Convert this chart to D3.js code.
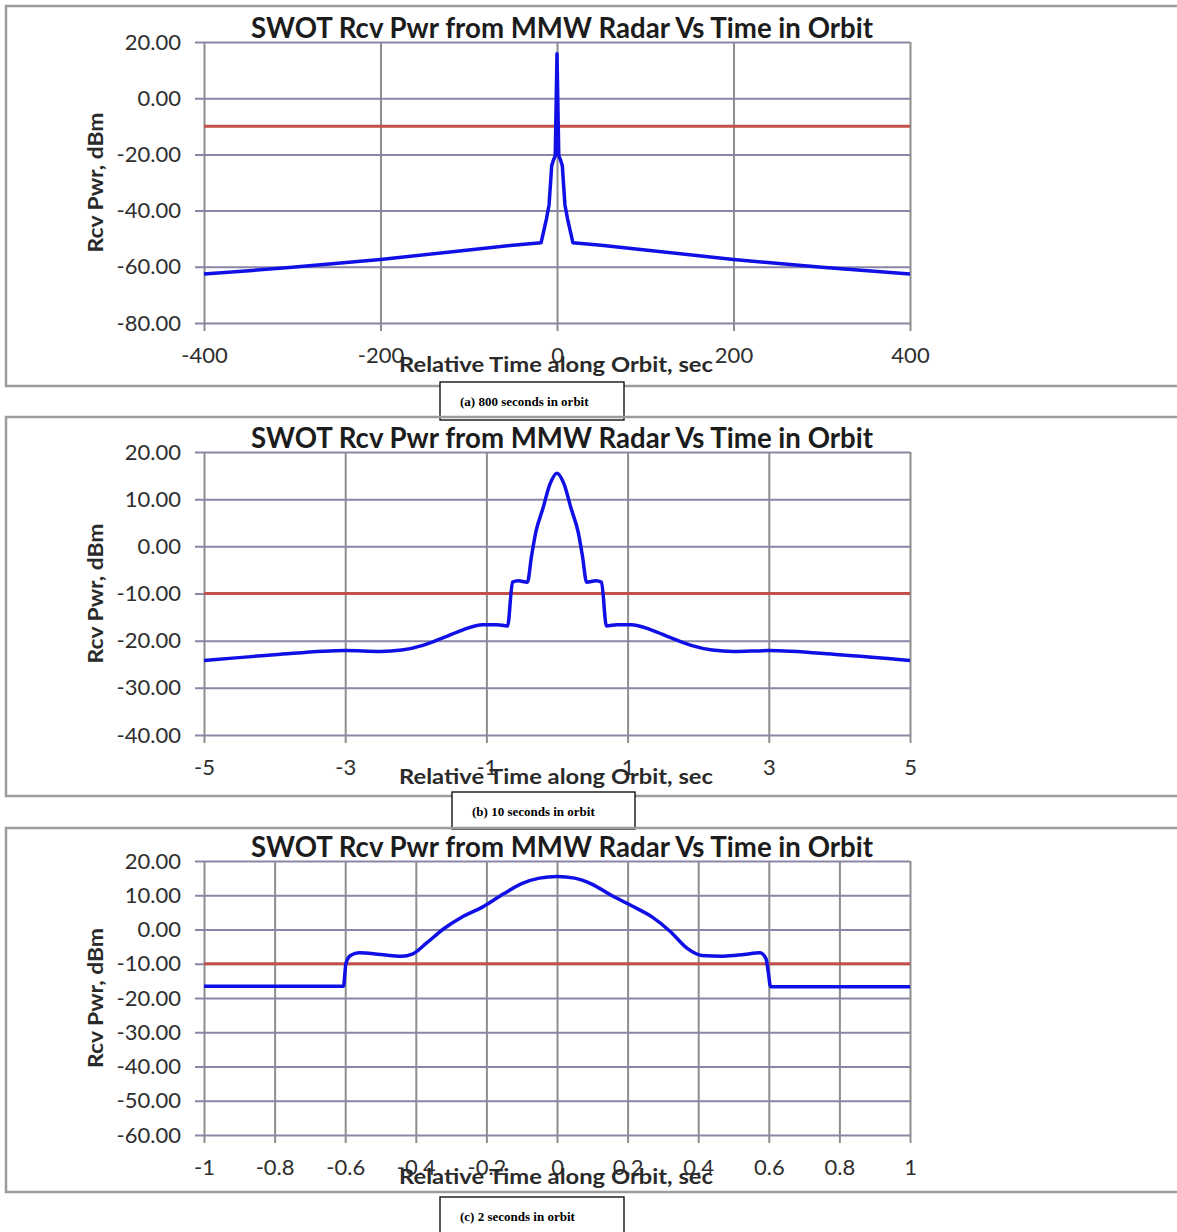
<!DOCTYPE html>
<html>
<head>
<meta charset="utf-8">
<script src="https://cdn.jsdelivr.net/npm/d3@7"></script>
<style>
  body { margin: 0; background: #fff; }
  .tick text { fill: #2e2e2e; font-family: Lato, sans-serif; font-size: 22px; }
</style>
</head>
<body>
<div id="chart-area"></div>
<script>
// texts
const chartTitle = 'SWOT Rcv Pwr from MMW Radar Vs Time in Orbit';
const xTitle = 'Relative Time along Orbit, sec';
const yTitle = 'Rcv Pwr, dBm';
const captions = ['(a) 800 seconds in orbit', '(b) 10 seconds in orbit', '(c) 2 seconds in orbit'];
const threshold = -10; // red reference line, dBm

// (a) 800 s window
const xTicks800 = [-400, -200, 0, 200, 400];
const yTicks800 = [20, 0, -20, -40, -60, -80];
const time800 = [-400, -300, -200, -100, -50, -18, -12, -9, -6, -4, -2, 0, 2, 4, 6, 9, 12, 18, 50, 100, 200, 300, 400];
const pwr800 = [-62.6, -60.2, -57.4, -54.0, -52.3, -51.4, -43.0, -38.0, -24.0, -22.0, -20.5, 15.8, -20.5, -22.0, -24.0, -38.0, -43.0, -51.4, -52.3, -54.0, -57.4, -60.2, -62.6];

// (b) 10 s window
const xTicks10 = [-5, -3, -1, 1, 3, 5];
const yTicks10 = [20, 10, 0, -10, -20, -30, -40];
const time10 = [-5, -4, -3, -2.5, -2.2, -1.9, -1.6, -1.35, -1.05, -0.85, -0.7, -0.63, -0.55, -0.42, -0.36, -0.3, -0.2, -0.1, 0,
  0.1, 0.2, 0.3, 0.36, 0.42, 0.55, 0.63, 0.7, 0.85, 1.05, 1.35, 1.6, 1.9, 2.2, 2.5, 3, 4, 5];
const pwr10 = [-24.2, -23.0, -22.1, -22.3, -22.0, -21.0, -19.3, -17.8, -16.6, -16.6, -16.9, -7.6, -7.3, -7.6, -2.0, 3.0, 8.0, 13.2, 15.5,
  13.2, 8.0, 3.0, -2.0, -7.6, -7.3, -7.6, -16.9, -16.6, -16.6, -17.8, -19.3, -21.0, -22.0, -22.3, -22.1, -23.0, -24.2];

// (c) 2 s window
const xTicks2 = [-1, -0.8, -0.6, -0.4, -0.2, 0, 0.2, 0.4, 0.6, 0.8, 1];
const yTicks2 = [20, 10, 0, -10, -20, -30, -40, -50, -60];
const time2 = [-1, -0.8, -0.605, -0.598, -0.585, -0.56, -0.5, -0.44, -0.41, -0.37, -0.32, -0.27, -0.21, -0.15, -0.1, -0.05, 0,
  0.05, 0.1, 0.15, 0.21, 0.27, 0.32, 0.37, 0.41, 0.47, 0.53, 0.575, 0.592, 0.598, 0.605, 0.8, 1];
const pwr2 = [-16.6, -16.6, -16.6, -10.0, -7.6, -6.8, -7.3, -7.8, -7.2, -4.0, 0.3, 3.6, 6.6, 10.5, 13.4, 15.0, 15.5,
  15.0, 13.2, 10.2, 7.0, 3.6, -0.5, -5.6, -7.6, -7.8, -7.3, -6.8, -8.5, -12.0, -16.7, -16.7, -16.7];

const svg = d3.select('#chart-area')
  .append('svg')
  .attr('width', 1177)
  .attr('height', 1232);

const plotLeft = 204;
const plotRight = 910;

const panels = [
  { time: time800, pwr: pwr800, xTicks: xTicks800, yTicks: yTicks800, caption: captions[0],
    top: 42, bottom: 323, frame: [6, 386], box: [440, 382, 184, 38], curve: d3.curveLinear },
  { time: time10, pwr: pwr10, xTicks: xTicks10, yTicks: yTicks10, caption: captions[1],
    top: 452, bottom: 735, frame: [417, 796], box: [452, 792, 183, 37], curve: d3.curveMonotoneX },
  { time: time2, pwr: pwr2, xTicks: xTicks2, yTicks: yTicks2, caption: captions[2],
    top: 861, bottom: 1135, frame: [828, 1192], box: [440, 1197, 184, 50], curve: d3.curveMonotoneX }
];

const drawPanel = p => {
  const g = svg.append('g');
  const width = plotRight - plotLeft;
  const height = p.bottom - p.top;

  // outer chart frame (runs off the right edge)
  g.append('rect')
    .attr('x', 6)
    .attr('y', p.frame[0])
    .attr('width', 1240)
    .attr('height', p.frame[1] - p.frame[0])
    .attr('fill', 'none')
    .attr('stroke', '#9c9c9c')
    .attr('stroke-width', 2.5);

  const x = d3.scaleLinear().domain(d3.extent(p.xTicks)).range([plotLeft, plotRight]);
  const y = d3.scaleLinear().domain(d3.extent(p.yTicks)).range([p.bottom, p.top]);

  // vertical grid with tick marks below the plot
  const xAxis = g.append('g')
    .attr('transform', `translate(0, ${p.top})`)
    .call(d3.axisBottom(x)
      .tickValues(p.xTicks)
      .tickSize(height + 8)
      .tickPadding(16)
      .tickFormat(d => String(d)));
  xAxis.select('.domain').remove();
  xAxis.selectAll('line').attr('stroke', '#8e8e8e').attr('stroke-width', 2);

  // horizontal grid with tick marks left of the plot
  const yAxis = g.append('g')
    .attr('transform', `translate(${plotRight}, 0)`)
    .call(d3.axisLeft(y)
      .tickValues(p.yTicks)
      .tickSize(width + 9)
      .tickPadding(14)
      .tickFormat(d => d.toFixed(2)));
  yAxis.select('.domain').remove();
  yAxis.selectAll('line').attr('stroke', '#8b85a6').attr('stroke-width', 2);

  // threshold line
  g.append('line')
    .attr('x1', x.range()[0])
    .attr('x2', x.range()[1])
    .attr('y1', y(threshold))
    .attr('y2', y(threshold))
    .attr('stroke', '#c4504c')
    .attr('stroke-width', 3);

  // received power curve
  const line = d3.line()
    .x((d, i) => x(p.time[i]))
    .y(d => y(d))
    .curve(p.curve);
  g.append('path')
    .datum(p.pwr)
    .attr('d', line)
    .attr('fill', 'none')
    .attr('stroke', '#0f0fe6')
    .attr('stroke-width', 3.5)
    .attr('stroke-linejoin', 'round');

  // title
  g.append('text')
    .attr('x', 562)
    .attr('y', p.top - 4)
    .attr('text-anchor', 'middle')
    .attr('textLength', 622)
    .attr('lengthAdjust', 'spacingAndGlyphs')
    .attr('font-family', 'Lato, sans-serif')
    .attr('font-weight', 'bold')
    .attr('font-size', '29px')
    .attr('fill', '#1c1c1c')
    .text(chartTitle);

  // y label
  g.append('text')
    .attr('transform', `translate(103, ${(p.top + p.bottom) / 2}) rotate(-90)`)
    .attr('text-anchor', 'middle')
    .attr('textLength', 140)
    .attr('lengthAdjust', 'spacingAndGlyphs')
    .attr('font-family', 'Lato, sans-serif')
    .attr('font-weight', 'bold')
    .attr('font-size', '21px')
    .attr('fill', '#2a2a2a')
    .text(yTitle);

  // x label (sits over the tick labels like the original)
  g.append('text')
    .attr('x', 556)
    .attr('y', p.bottom + 49)
    .attr('text-anchor', 'middle')
    .attr('textLength', 314)
    .attr('lengthAdjust', 'spacingAndGlyphs')
    .attr('font-family', 'Lato, sans-serif')
    .attr('font-weight', 'bold')
    .attr('font-size', '21px')
    .attr('fill', '#2a2a2a')
    .text(xTitle);

  // caption box
  const [bx, by, bw, bh] = p.box;
  g.append('rect')
    .attr('x', bx)
    .attr('y', by)
    .attr('width', bw)
    .attr('height', bh)
    .attr('fill', '#fff')
    .attr('stroke', '#000')
    .attr('stroke-width', 1.3);
  g.append('text')
    .attr('x', bx + 20)
    .attr('y', by + 24)
    .attr('font-family', '"Liberation Serif", "Times New Roman", serif')
    .attr('font-weight', 'bold')
    .attr('font-size', '13px')
    .attr('fill', '#000')
    .text(p.caption);
};

panels.forEach(drawPanel);
</script>
</body>
</html>
